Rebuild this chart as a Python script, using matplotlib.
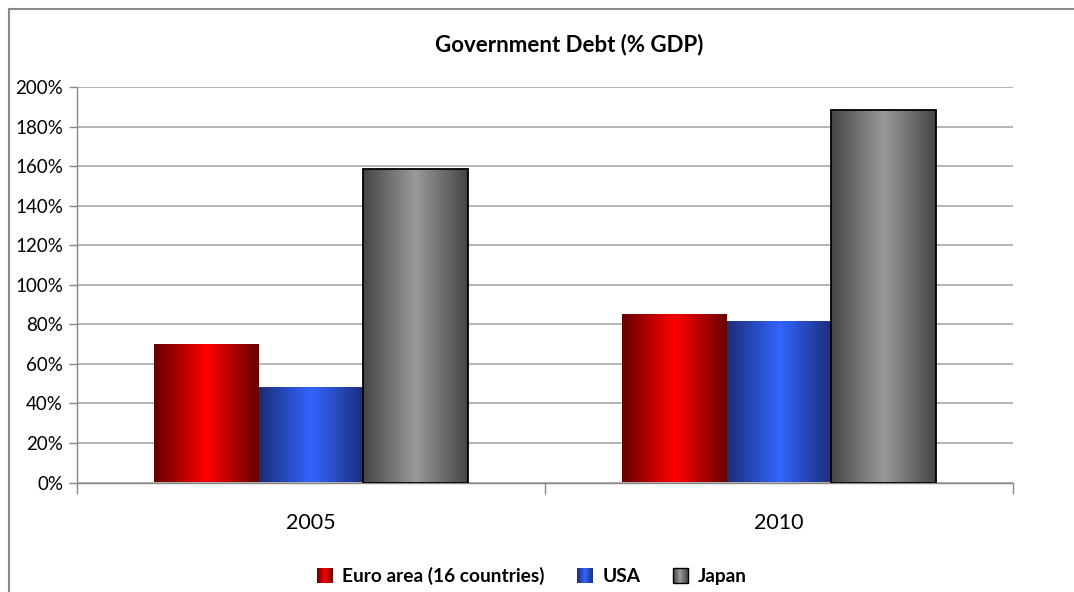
import numpy as np
import matplotlib
matplotlib.use("Agg")
from matplotlib import pyplot as plt
from matplotlib.colors import LinearSegmentedColormap
from matplotlib.legend_handler import HandlerBase
from matplotlib.patches import Rectangle
from matplotlib.lines import Line2D

plt.rcParams['font.family'] = ['Lato', 'DejaVu Sans']

years = ["2005", "2010"]
series = ["Euro area (16 countries)", "USA", "Japan"]
euro = [70.0, 85.2]
usa = [48.3, 81.7]
japan = [158.3, 188.6]
yticks = [0, 20, 40, 60, 80, 100, 120, 140, 160, 180, 200]

# horizontal shading for each series: dark edges, light middle
cmaps = [
    LinearSegmentedColormap.from_list("red", ["#660000", "#ff0000", "#660000"]),
    LinearSegmentedColormap.from_list("blue", ["#1b2d78", "#3366ff", "#1b2d78"]),
    LinearSegmentedColormap.from_list("gray", ["#454545", "#9a9a9a", "#454545"]),
]
edges = ["none", "none", "black"]

fig = plt.figure(figsize=(10.74, 5.92), dpi=100)
ax = fig.add_axes([77 / 1074, 1 - 482.5 / 592, (1013 - 77) / 1074, (482.5 - 87) / 592])

ramp = np.linspace(0, 1, 256).reshape(1, -1)
width = 0.223
x = np.arange(len(years))
for i, vals in enumerate([euro, usa, japan]):
    bars = ax.bar(x + (i - 1) * width, vals, width, facecolor="none",
                  edgecolor=edges[i], linewidth=1.3, zorder=3)
    for b in bars:
        x0, y0 = b.get_x(), b.get_y()
        img = ax.imshow(ramp, cmap=cmaps[i], aspect="auto", interpolation="bilinear",
                        extent=(x0, x0 + b.get_width(), y0, y0 + b.get_height()), zorder=2)
        img.set_clip_path(b)

ax.set_xlim(-0.5, 1.5)
ax.set_ylim(0, 200)
ax.set_yticks(yticks)
ax.set_yticklabels([f"{t}%" for t in yticks], fontsize=13.5)
ax.set_xticks(x)
ax.set_xticklabels(years, fontsize=15.5)
ax.set_xticks([-0.5, 0.5, 1.5], minor=True)
ax.tick_params(axis="x", which="major", length=0, pad=22)
ax.tick_params(axis="x", which="minor", length=8, color="#888888", width=1)
ax.tick_params(axis="y", length=6, color="#888888", width=1, pad=4)
ax.yaxis.grid(True, color="#a8a8a8", linewidth=1.2, zorder=0)
ax.set_axisbelow(True)
for s in ["top", "right"]:
    ax.spines[s].set_visible(False)
for s in ["left", "bottom"]:
    ax.spines[s].set_color("#888888")
    ax.spines[s].set_linewidth(1)

fig.text(569 / 1074, 1 - 45 / 592, "Government Debt (% GDP)", ha="center", va="center",
         fontsize=16, fontweight="bold")


class GradientHandler(HandlerBase):
    def __init__(self, cmap, edge):
        super().__init__()
        self.cmap = cmap
        self.edge = edge

    def create_artists(self, legend, orig_handle, xdescent, ydescent, width, height, fontsize, trans):
        side = min(width, height) * 0.9
        x0 = -xdescent + (width - side) / 2
        y0 = -ydescent + (height - side) / 2
        n = 16
        artists = []
        for k in range(n):
            r = Rectangle((x0 + k * side / n, y0), side / n + 0.3, side,
                          facecolor=self.cmap((k + 0.5) / n), edgecolor="none", transform=trans)
            artists.append(r)
        if self.edge != "none":
            artists.append(Rectangle((x0, y0), side, side, facecolor="none",
                                     edgecolor=self.edge, linewidth=1, transform=trans))
        return artists


handles = [Line2D([], []) for _ in series]
fig.legend(handles, series, loc="center", bbox_to_anchor=(531 / 1074, 1 - 576 / 592),
           ncol=3, frameon=False, handlelength=1.0, handleheight=1.0, handletextpad=0.4,
           columnspacing=1.6, prop={"weight": "bold", "size": 13.8},
           handler_map={h: GradientHandler(c, e) for h, c, e in zip(handles, cmaps, edges)})

# outer chart frame
fig.add_artist(Line2D([9 / 1074, 9 / 1074], [0, 1 - 9 / 592], transform=fig.transFigure,
                      color="#888888", linewidth=1.5))
fig.add_artist(Line2D([9 / 1074, 1], [1 - 9 / 592, 1 - 9 / 592], transform=fig.transFigure,
                      color="#888888", linewidth=1.5))

fig.savefig("out.png", dpi=100)
